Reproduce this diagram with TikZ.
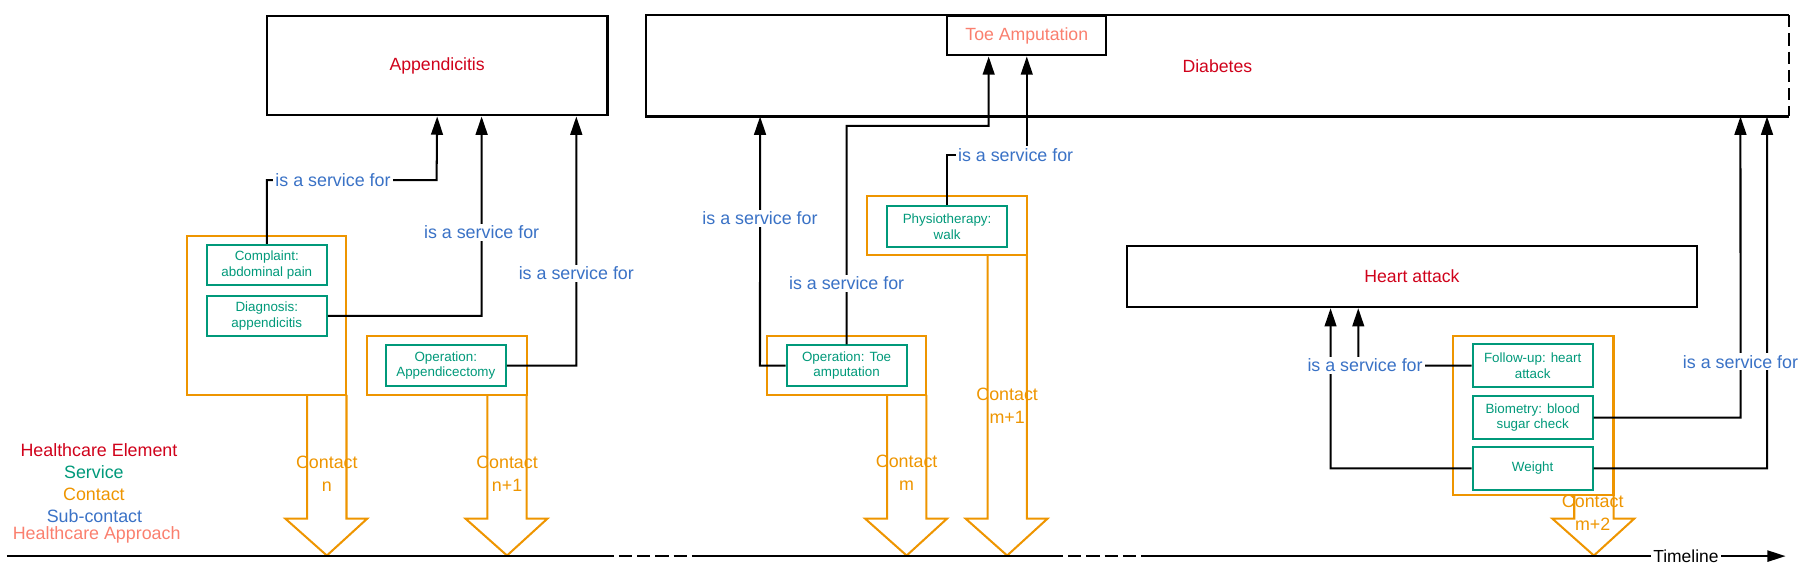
\documentclass[tikz,border=0pt]{standalone}
\usepackage{fontspec}
\setmainfont{Liberation Sans}
\usetikzlibrary{arrows.meta}

\definecolor{hecol}{HTML}{D0021B}
\definecolor{svccol}{HTML}{00997A}
\definecolor{ctccol}{HTML}{EE9500}
\definecolor{subcol}{HTML}{3A72C6}
\definecolor{hapcol}{HTML}{FA7F6E}

\tikzset{
  hebox/.style = {draw, line width=1pt, fill=white, inner sep=0pt, text=hecol, font=\fontsize{8.7}{10.5}\selectfont},
  svcbox/.style = {draw=svccol, line width=1pt, fill=white, text=svccol, align=center, inner sep=0pt, minimum width=2.08cm, minimum height=0.7cm, font=\fontsize{6.6}{7.8}\selectfont},
  ctcbox/.style = {draw=ctccol, line width=1pt, inner sep=0pt, minimum width=2.76cm},
  ctcarrow/.style = {draw=ctccol, line width=1pt, line join=miter},
  ctclbl/.style = {text=ctccol, align=center, inner sep=0pt, font=\fontsize{8.8}{11.4}\selectfont},
  isfor/.style = {draw, line width=1pt, -{Triangle[length=9pt,width=5.8pt]}},
  svclbl/.style = {text=subcol, fill=white, inner sep=1pt, font=\fontsize{8.8}{10.5}\selectfont},
  lgd/.style = {inner sep=0pt, font=\fontsize{8.8}{10.5}\selectfont},
  tldash/.style = {dash pattern=on 6.5pt off 2.5pt},
}

\begin{document}
\begin{tikzpicture}[x=0.02cm, y=-0.02cm]
        \useasboundingbox (0,0) rectangle (1568,498.7);

        % healthcare elements
        \node[hebox, minimum width=5.9cm, minimum height=1.72cm] (ap) at (378.5,57) {Appendicitis};
        \node[hebox, draw=none, minimum width=19.76cm, minimum height=1.72cm] (db) at (1054,57) {Diabetes};
        \draw[line width=1pt] (db.north east) -- (db.north west) -- (db.south west) -- (db.south east);
        \draw[line width=1pt, dash pattern=on 6pt off 3pt] (db.north east) -- (db.south east);
        \node[hebox, text=hapcol, minimum width=2.76cm, minimum height=0.68cm] (ta) at (889,31) {Toe Amputation};
        \node[hebox, minimum width=9.86cm, minimum height=1.06cm] (ha) at (1222.5,239.5) {Heart attack};

        % contacts
        \node[ctcbox, minimum height=2.76cm] (cn) at (231,273) {};
        \node[ctcbox, minimum height=1.02cm] (cn1) at (387,316.5) {};
        \node[ctcbox, minimum height=1.02cm] (cm) at (733,316.5) {};
        \node[ctcbox, minimum height=1.02cm] (cm1) at (820,195.5) {};
        \node[ctcbox, minimum width=2.78cm, minimum height=2.76cm] (cm2) at (1327.5,360) {};

        \foreach \xr/\yt in {300/342, 456/342, 802/342, 889/221, 1397/429}
            \draw[ctcarrow] ({\xr-34},\yt) -- ({\xr-34},449) -- ({\xr-53},449) -- ({\xr-17},481) -- ({\xr+18},449) -- (\xr,449) -- (\xr,\yt);

        \node[ctclbl] (lcn) at (283,410.5) {Contact\\n};
        \node[ctclbl] (lcn1) at (439,410.5) {Contact\\n+1};
        \node[ctclbl] (lcm) at (785,409) {Contact\\m};
        \node[ctclbl] (lcm1) at (872,351) {Contact\\m+1};
        \node[ctclbl] (lcm2) at (1379,444) {Contact\\m+2};

        % services
        \node[svcbox] (cp) at (231,229.5) {Complaint:\\abdominal pain};
        \node[svcbox] (dg) at (231,273.5) {Diagnosis:\\appendicitis};
        \node[svcbox] (op1) at (386,316.5) {Operation:\\Appendicectomy};
        \node[svcbox] (op2) at (733,316.5) {Operation: Toe\\amputation};
        \node[svcbox] (ph) at (820,196) {Physiotherapy:\\walk};
        \node[svcbox, minimum height=0.74cm] (fu) at (1327,316.5) {Follow-up: heart\\attack};
        \node[svcbox, minimum height=0.74cm] (bm) at (1327,361.5) {Biometry: blood\\sugar check};
        \node[svcbox, minimum height=0.74cm] (wt) at (1327,405.5) {Weight};

        % is a service for
        \draw[isfor] (cp.north) -- (231,156) -- node[svclbl, pos=0.39] (s1) {is a service for} (378,156) -- (ap.south);
        \draw[isfor] (dg.east) -- (417,273.5) -- node[svclbl, pos=0.42] (s2) {is a service for} ([xshift=0.77cm]ap.south);
        \draw[isfor] (op1.east) -- (499,316.5) -- node[svclbl, pos=0.37] (s3) {is a service for} ([xshift=2.41cm]ap.south);
        \draw[isfor] (op2.west) -- (658,316.5) -- node[svclbl, pos=0.59] (s4) {is a service for} ([xshift=-7.92cm]db.south);
        \draw[isfor] (op2.north) -- node[svclbl, pos=0.28] (s5) {is a service for} (733,109) -- (856,109) -- ([xshift=-0.66cm]ta.south);
        \draw[isfor] (ph.north) -- (820,134) -- node[svclbl, pos=0.86] (s6) {is a service for} (889,134) -- (ta.south);
        \draw[isfor] (wt.west) -- (1152,405.5) -- ([xshift=-1.41cm]ha.south);
        \draw[isfor] (fu.west) -- node[svclbl, pos=0.94] (s7) {is a service for} (1176,316.5) -- ([xshift=-0.93cm]ha.south);
        \draw[isfor] (wt.east) -- (1530,405.5) -- ([xshift=9.52cm]db.south);
        \draw[isfor] (bm.east) -- (1507,361.5) -- node[svclbl, pos=0.185] (s8) {is a service for} ([xshift=9.06cm]db.south);

        % timeline
        \coordinate (t0) at (6,481.5);
        \coordinate (t1) at (520,481.5);
        \coordinate (t2) at (600,481.5);
        \coordinate (t3) at (909,481.5);
        \coordinate (t4) at (989,481.5);
        \coordinate (t5) at (1546,481.5);
        \draw[line width=1pt] (t0) -- (t1);
        \draw[line width=1pt, tldash] (t1) -- (t2);
        \draw[line width=1pt] (t2) -- (t3);
        \draw[line width=1pt, tldash] (t3) -- (t4);
        \draw[line width=1pt, -{Triangle[length=9pt,width=5.5pt]}] (t4) -- node[pos=0.845, fill=white, inner sep=1pt, font=\fontsize{8.6}{10}\selectfont] (tl) {Timeline} (t5);

        % legend
        \node[lgd, text=hecol] (lg1) at (85.7,389.6) {Healthcare Element};
        \node[lgd, text=svccol] (lg2) at (81.3,409) {Service};
        \node[lgd, text=ctccol] (lg3) at (81.3,427.7) {Contact};
        \node[lgd, text=subcol] (lg4) at (81.8,446.8) {Sub-contact};
        \node[lgd, text=hapcol] (lg5) at (83.7,463) {Healthcare Approach};
    \end{tikzpicture}
\end{document}
